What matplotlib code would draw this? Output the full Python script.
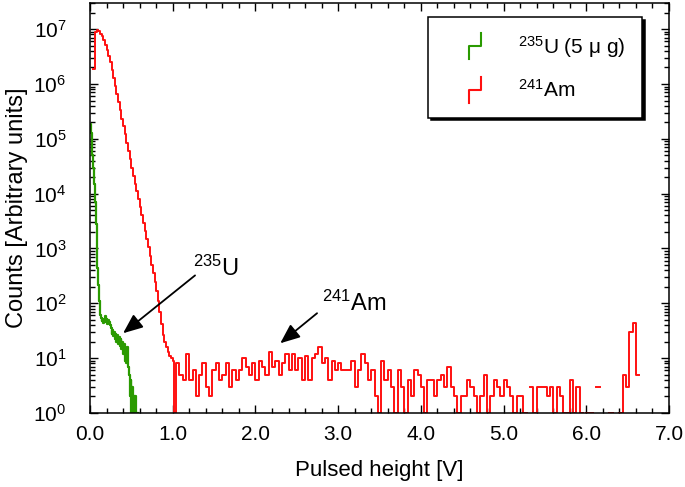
import numpy as np
import matplotlib.pyplot as plt
from matplotlib.lines import Line2D
from matplotlib.legend_handler import HandlerBase

plt.rcParams['font.family'] = ['Liberation Sans', 'DejaVu Sans']
plt.rcParams['mathtext.fontset'] = 'custom'
plt.rcParams['mathtext.rm'] = 'Liberation Sans'
plt.rcParams['mathtext.it'] = 'Liberation Sans:italic'
plt.rcParams['mathtext.bf'] = 'Liberation Sans:bold'

# 235U spectrum, 0.01 V bins starting at 0 V
u235_counts = [1.9e5, 1.3e5, 8e4, 5e4, 3e4, 1.5e4, 7e3, 2.8e3, 1.0e3, 450,
               220, 110, 60, 55, 48, 52, 44, 50, 58, 46,
               52, 42, 50, 45, 40, 35, 28, 33, 25, 30,
               22, 28, 20, 26, 18, 24, 17, 22, 15, 20,
               12, 18, 9, 14, 8, 16, 7, 5, 2, 4,
               1, 3, 1, 2, 1, 2, 1, 1]

# 241Am spectrum: 0.02 V bins from 0.04 V to 1.04 V ...
am_main = [1.9e6, 8.9e6, 9.5e6, 9.1e6, 8.3e6, 7.4e6, 6.3e6, 5.2e6, 4.2e6, 3.3e6,
           2.5e6, 1.8e6, 1.3e6, 9.3e5, 6.6e5, 4.7e5, 3.3e5, 2.3e5, 1.7e5, 1.2e5,
           8.3e4, 5.9e4, 4.2e4, 3.0e4, 2.1e4, 1.5e4, 1.1e4, 7.9e3, 5.6e3, 4.0e3,
           2.9e3, 2.1e3, 1.5e3, 1050, 720, 500, 350, 240, 165, 112,
           70, 42, 26, 20, 16, 13, 11, 10, 9, 1]
# ... then 0.04 V bins from 1.04 V to 6.68 V (0 = empty bin)
am_tail = [8, 5, 4, 12, 4, 6, 2, 5, 8, 3, 2, 6, 8, 4, 5, 8, 3, 6, 4, 6,
           10, 7, 5, 8, 4, 9, 7, 5, 13, 7, 9, 5, 8, 12, 6,
           12, 6, 10, 4, 11, 4, 10, 12, 16, 8, 10, 4, 9, 6, 8, 6, 6, 6, 9, 3,
           6, 12, 8, 4, 6, 2, 1, 9, 4, 6, 3, 1, 6, 3, 1, 4, 2, 6,
           5, 3, 1, 4, 4, 2, 4, 5, 3, 7, 3, 2, 1, 2, 2, 4, 3, 2, 1, 2,
           5, 1, 2, 4, 3, 2, 4, 3, 2, 1, 2, 2, 1, 0, 3, 1, 3, 3,
           3, 2, 3, 1, 3, 2, 1, 1, 4, 1, 3, 1, 0, 1, 1, 0, 3, 0, 0, 0,
           1, 0, 0, 1, 5, 3, 30, 43, 5, 0]

u_edges = 0.01 * np.arange(len(u235_counts) + 1)
am_edges = np.concatenate([0.04 + 0.02 * np.arange(len(am_main)),
                           1.04 + 0.04 * np.arange(len(am_tail) + 1)])
am_counts = am_main + am_tail


def step_xy(edges, counts):
    y = np.append(counts, counts[-1]).astype(float)
    y[y <= 0] = np.nan
    return edges, y


class StepHandler(HandlerBase):
    def create_artists(self, legend, orig_handle, xdescent, ydescent,
                       width, height, fontsize, trans):
        w = 0.6 * fontsize
        h = 1.25 * fontsize
        x0 = -xdescent + (width - w) / 2
        y0 = -ydescent + (height - h) / 2
        line = Line2D([x0, x0, x0 + w, x0 + w],
                      [y0, y0 + h / 2, y0 + h / 2, y0 + h],
                      color=orig_handle.get_color(), lw=1.5)
        line.set_transform(trans)
        return [line]


fig = plt.figure(figsize=(6.85, 4.87), dpi=100)
ax = fig.add_axes([90 / 685, 74 / 487, 579 / 685, 410 / 487])

x, y = step_xy(u_edges, u235_counts)
lu, = ax.step(x, y, where='post', color='#2a9a00', lw=1.6,
              label='$^{235}$U (5 μ g)')
x, y = step_xy(am_edges, am_counts)
la, = ax.step(x, y, where='post', color='#ff1010', lw=1.4,
              label='$^{241}$Am')

ax.set_yscale('log', nonpositive='clip')
ax.set_xlim(0, 7)
ax.set_ylim(1, 3e7)
ax.set_xticks(np.arange(0, 7.1, 1))
ax.set_xticklabels(['0.0', '1.0', '2.0', '3.0', '4.0', '5.0', '6.0', '7.0'])
ax.set_xticks(np.arange(0, 7.01, 0.2), minor=True)
ax.set_yticks([10.0 ** k for k in range(8)])
ax.tick_params(which='both', direction='in', top=True, right=True,
               labelsize=15, width=1)
ax.tick_params(which='major', length=6)
ax.tick_params(which='minor', length=3.5)
ax.tick_params(axis='x', pad=9)
ax.tick_params(axis='y', pad=17)
for s in ax.spines.values():
    s.set_linewidth(1.1)

ax.set_xlabel('Pulsed height [V]', fontsize=16, labelpad=11)
ax.set_ylabel('Counts [Arbitrary units]', fontsize=17, labelpad=4)

arrow = dict(arrowstyle='-|>,head_length=0.6,head_width=0.25', color='k',
             lw=1.3, mutation_scale=20, shrinkA=0, shrinkB=0)
ax.annotate('', xy=(0.40, 28.5), xytext=(1.27, 323), arrowprops=arrow)
ax.annotate('', xy=(2.30, 18.7), xytext=(2.745, 66), arrowprops=arrow)
ax.text(1.24, 320, '$^{235}$U', fontsize=17, va='baseline')
ax.text(2.80, 74, '$^{241}$Am', fontsize=17, va='baseline')

leg = ax.legend(handles=[lu, la], handler_map={Line2D: StepHandler()},
                loc='upper right', bbox_to_anchor=(0.953, 0.966),
                fontsize=15, frameon=True, fancybox=False,
                shadow={'color': 'k', 'alpha': 1},
                handlelength=2.9, handleheight=1.3, handletextpad=0.6,
                labelspacing=0.9, borderpad=0.8, borderaxespad=0)
leg.get_frame().set_edgecolor('k')
leg.get_frame().set_linewidth(1.1)

fig.savefig('out.png', dpi=100)
